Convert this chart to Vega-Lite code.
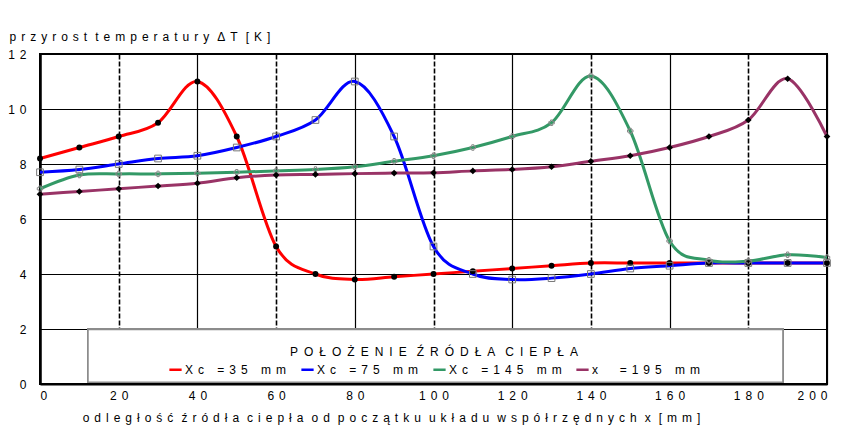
{
  "$schema": "https://vega.github.io/schema/vega-lite/v6.json",
  "width": 787,
  "height": 330,
  "autosize": "none",
  "padding": {"left": 40, "top": 54, "right": 15, "bottom": 57},
  "background": "white",
  "config": {
    "font": "Liberation Sans",
    "view": {"stroke": "black", "strokeWidth": 2},
    "axis": {"labelFont": "Liberation Sans", "titleFont": "Liberation Sans", "labelColor": "black", "titleColor": "black"}
  },
  "data": {
    "values": [
      {"x": 0, "y": 8.2, "s": "Xc =35 mm"}, {"x": 10, "y": 8.6, "s": "Xc =35 mm"}, {"x": 20, "y": 9.0, "s": "Xc =35 mm"}, {"x": 30, "y": 9.5, "s": "Xc =35 mm"}, {"x": 40, "y": 11.0, "s": "Xc =35 mm"}, {"x": 50, "y": 9.0, "s": "Xc =35 mm"}, {"x": 60, "y": 5.0, "s": "Xc =35 mm"}, {"x": 70, "y": 4.0, "s": "Xc =35 mm"}, {"x": 80, "y": 3.8, "s": "Xc =35 mm"}, {"x": 90, "y": 3.9, "s": "Xc =35 mm"}, {"x": 100, "y": 4.0, "s": "Xc =35 mm"}, {"x": 110, "y": 4.1, "s": "Xc =35 mm"}, {"x": 120, "y": 4.2, "s": "Xc =35 mm"}, {"x": 130, "y": 4.3, "s": "Xc =35 mm"}, {"x": 140, "y": 4.4, "s": "Xc =35 mm"}, {"x": 150, "y": 4.4, "s": "Xc =35 mm"}, {"x": 160, "y": 4.4, "s": "Xc =35 mm"}, {"x": 170, "y": 4.4, "s": "Xc =35 mm"}, {"x": 180, "y": 4.4, "s": "Xc =35 mm"}, {"x": 190, "y": 4.4, "s": "Xc =35 mm"}, {"x": 200, "y": 4.4, "s": "Xc =35 mm"},
      {"x": 0, "y": 7.7, "s": "Xc =75 mm"}, {"x": 10, "y": 7.8, "s": "Xc =75 mm"}, {"x": 20, "y": 8.0, "s": "Xc =75 mm"}, {"x": 30, "y": 8.2, "s": "Xc =75 mm"}, {"x": 40, "y": 8.3, "s": "Xc =75 mm"}, {"x": 50, "y": 8.6, "s": "Xc =75 mm"}, {"x": 60, "y": 9.0, "s": "Xc =75 mm"}, {"x": 70, "y": 9.6, "s": "Xc =75 mm"}, {"x": 80, "y": 11.0, "s": "Xc =75 mm"}, {"x": 90, "y": 9.0, "s": "Xc =75 mm"}, {"x": 100, "y": 5.0, "s": "Xc =75 mm"}, {"x": 110, "y": 4.0, "s": "Xc =75 mm"}, {"x": 120, "y": 3.8, "s": "Xc =75 mm"}, {"x": 130, "y": 3.85, "s": "Xc =75 mm"}, {"x": 140, "y": 4.0, "s": "Xc =75 mm"}, {"x": 150, "y": 4.2, "s": "Xc =75 mm"}, {"x": 160, "y": 4.3, "s": "Xc =75 mm"}, {"x": 170, "y": 4.4, "s": "Xc =75 mm"}, {"x": 180, "y": 4.4, "s": "Xc =75 mm"}, {"x": 190, "y": 4.4, "s": "Xc =75 mm"}, {"x": 200, "y": 4.4, "s": "Xc =75 mm"},
      {"x": 0, "y": 7.1, "s": "Xc =145 mm"}, {"x": 10, "y": 7.6, "s": "Xc =145 mm"}, {"x": 20, "y": 7.64, "s": "Xc =145 mm"}, {"x": 30, "y": 7.64, "s": "Xc =145 mm"}, {"x": 40, "y": 7.66, "s": "Xc =145 mm"}, {"x": 50, "y": 7.7, "s": "Xc =145 mm"}, {"x": 60, "y": 7.75, "s": "Xc =145 mm"}, {"x": 70, "y": 7.8, "s": "Xc =145 mm"}, {"x": 80, "y": 7.9, "s": "Xc =145 mm"}, {"x": 90, "y": 8.1, "s": "Xc =145 mm"}, {"x": 100, "y": 8.3, "s": "Xc =145 mm"}, {"x": 110, "y": 8.6, "s": "Xc =145 mm"}, {"x": 120, "y": 9.0, "s": "Xc =145 mm"}, {"x": 130, "y": 9.5, "s": "Xc =145 mm"}, {"x": 140, "y": 11.2, "s": "Xc =145 mm"}, {"x": 150, "y": 9.2, "s": "Xc =145 mm"}, {"x": 160, "y": 5.2, "s": "Xc =145 mm"}, {"x": 170, "y": 4.5, "s": "Xc =145 mm"}, {"x": 180, "y": 4.47, "s": "Xc =145 mm"}, {"x": 190, "y": 4.7, "s": "Xc =145 mm"}, {"x": 200, "y": 4.6, "s": "Xc =145 mm"},
      {"x": 0, "y": 6.9, "s": "x  =195 mm"}, {"x": 10, "y": 7.0, "s": "x  =195 mm"}, {"x": 20, "y": 7.1, "s": "x  =195 mm"}, {"x": 30, "y": 7.2, "s": "x  =195 mm"}, {"x": 40, "y": 7.3, "s": "x  =195 mm"}, {"x": 50, "y": 7.5, "s": "x  =195 mm"}, {"x": 60, "y": 7.6, "s": "x  =195 mm"}, {"x": 70, "y": 7.62, "s": "x  =195 mm"}, {"x": 80, "y": 7.65, "s": "x  =195 mm"}, {"x": 90, "y": 7.67, "s": "x  =195 mm"}, {"x": 100, "y": 7.68, "s": "x  =195 mm"}, {"x": 110, "y": 7.75, "s": "x  =195 mm"}, {"x": 120, "y": 7.8, "s": "x  =195 mm"}, {"x": 130, "y": 7.9, "s": "x  =195 mm"}, {"x": 140, "y": 8.1, "s": "x  =195 mm"}, {"x": 150, "y": 8.3, "s": "x  =195 mm"}, {"x": 160, "y": 8.6, "s": "x  =195 mm"}, {"x": 170, "y": 9.0, "s": "x  =195 mm"}, {"x": 180, "y": 9.6, "s": "x  =195 mm"}, {"x": 190, "y": 11.1, "s": "x  =195 mm"}, {"x": 200, "y": 9.0, "s": "x  =195 mm"}
    ]
  },
  "encoding": {
    "x": {
      "field": "x", "type": "quantitative",
      "scale": {"domain": [0, 200], "nice": false},
      "axis": {
        "values": [0, 20, 40, 60, 80, 100, 120, 140, 160, 180, 200],
        "labelExpr": "join(split(datum.label, ''), '\u2004\u200a')",
        "labelFontSize": 12, "labelPadding": 6,
        "ticks": false,
        "domainColor": "black", "domainWidth": 2,
        "grid": true, "gridColor": "black", "gridOpacity": 1,
        "gridWidth": {"condition": {"test": "datum.value % 40 == 20", "value": 1.6}, "value": 1.2},
        "gridDash": {"condition": {"test": "datum.value % 40 == 20", "value": [5, 2]}, "value": []},
        "title": "o\u2004\u200ad\u2004\u200al\u2004\u200ae\u2004\u200ag\u2004\u200ał\u2004\u200ao\u2004\u200aś\u2004\u200ać\u2004\u2004ź\u2004\u200ar\u2004\u200aó\u2004\u200ad\u2004\u200ał\u2004\u200aa\u2004\u2004c\u2004\u200ai\u2004\u200ae\u2004\u200ap\u2004\u200ał\u2004\u200aa\u2004\u2004o\u2004\u200ad\u2004\u2004p\u2004\u200ao\u2004\u200ac\u2004\u200az\u2004\u200aą\u2004\u200at\u2004\u200ak\u2004\u200au\u2004\u2004u\u2004\u200ak\u2004\u200ał\u2004\u200aa\u2004\u200ad\u2004\u200au\u2004\u2004w\u2004\u200as\u2004\u200ap\u2004\u200aó\u2004\u200ał\u2004\u200ar\u2004\u200az\u2004\u200aę\u2004\u200ad\u2004\u200an\u2004\u200ay\u2004\u200ac\u2004\u200ah\u2004\u2004x\u2004\u2004[\u2004\u200am\u2004\u200am\u2004\u200a]",
        "titleFontSize": 12, "titleFontWeight": "normal",
        "titleX": 351, "titleY": 28, "titleAlign": "center", "titleAnchor": null
      }
    },
    "y": {
      "field": "y", "type": "quantitative",
      "scale": {"domain": [0, 12], "nice": false},
      "axis": {
        "values": [0, 2, 4, 6, 8, 10, 12],
        "labelExpr": "join(split(datum.label, ''), '\u2004\u200a')",
        "labelFontSize": 12, "labelPadding": 14,
        "ticks": false,
        "domainColor": "black", "domainWidth": 2.5,
        "grid": true, "gridColor": "black", "gridOpacity": 1, "gridWidth": 1.2,
        "title": "p\u2004\u200ar\u2004\u200az\u2004\u200ay\u2004\u200ar\u2004\u200ao\u2004\u200as\u2004\u200at\u2004\u2004t\u2004\u200ae\u2004\u200am\u2004\u200ap\u2004\u200ae\u2004\u200ar\u2004\u200aa\u2004\u200at\u2004\u200au\u2004\u200ar\u2004\u200ay\u2004\u2004Δ\u2004\u200aT\u2004\u2004[\u2004\u200aK\u2004\u200a]",
        "titleFontSize": 12, "titleFontWeight": "normal",
        "titleAngle": 0, "titleX": -31, "titleY": -14, "titleAlign": "left", "titleBaseline": "alphabetic"
      }
    }
  },
  "layer": [
    {
      "mark": {"type": "rect", "fill": "white", "stroke": "#8c8c8c", "strokeWidth": 1.5},
      "encoding": {
        "x": {"datum": 12.2, "type": "quantitative"},
        "x2": {"datum": 188.8},
        "y": {"datum": 0.06, "type": "quantitative"},
        "y2": {"datum": 1.98}
      }
    },
    {
      "mark": {"type": "line", "interpolate": "cardinal", "tension": 0, "strokeWidth": 3},
      "encoding": {
        "color": {
          "field": "s", "type": "nominal",
          "scale": {"domain": ["Xc =35 mm", "Xc =75 mm", "Xc =145 mm", "x  =195 mm"], "range": ["#ff0000", "#0000ff", "#339966", "#993366"]},
          "legend": {
            "orient": "none", "direction": "horizontal", "columns": 4,
            "legendX": 128, "legendY": 293,
            "title": "P\u2002O\u2002Ł\u2002O\u2002Ż\u2002E\u2002N\u2002I\u2002E\u2002\u2004Ź\u2002R\u2002Ó\u2002D\u2002Ł\u2002A\u2002\u2004C\u2002I\u2002E\u2002P\u2002Ł\u2002A",
            "titleFontSize": 12, "titleFontWeight": "normal", "titleColor": "black", "titleLimit": 600,
            "titleAnchor": "middle", "titleOrient": "top", "titlePadding": 3,
            "symbolType": "stroke", "symbolStrokeWidth": 2.5, "symbolSize": 150,
            "labelExpr": "join(split(datum.label, ''), '\u2004\u200a')",
            "labelFontSize": 12, "labelColor": "black", "labelOffset": 2, "labelLimit": 300,
            "columnPadding": 9
          }
        }
      }
    },
    {
      "transform": [{"filter": "datum.s == 'Xc =35 mm'"}],
      "mark": {"type": "point", "shape": "circle", "filled": true, "color": "black", "opacity": 1, "size": 35}
    },
    {
      "transform": [{"filter": "datum.s == 'Xc =75 mm'"}],
      "mark": {"type": "point", "shape": "square", "filled": false, "color": "#777777", "opacity": 1, "size": 45, "strokeWidth": 1}
    },
    {
      "transform": [{"filter": "datum.s == 'Xc =145 mm'"}],
      "mark": {"type": "point", "shape": "cross", "filled": false, "color": "#888888", "opacity": 1, "size": 30, "strokeWidth": 1}
    },
    {
      "transform": [{"filter": "datum.s == 'x  =195 mm'"}],
      "mark": {"type": "point", "shape": "diamond", "filled": true, "color": "black", "opacity": 1, "size": 45}
    }
  ]
}
